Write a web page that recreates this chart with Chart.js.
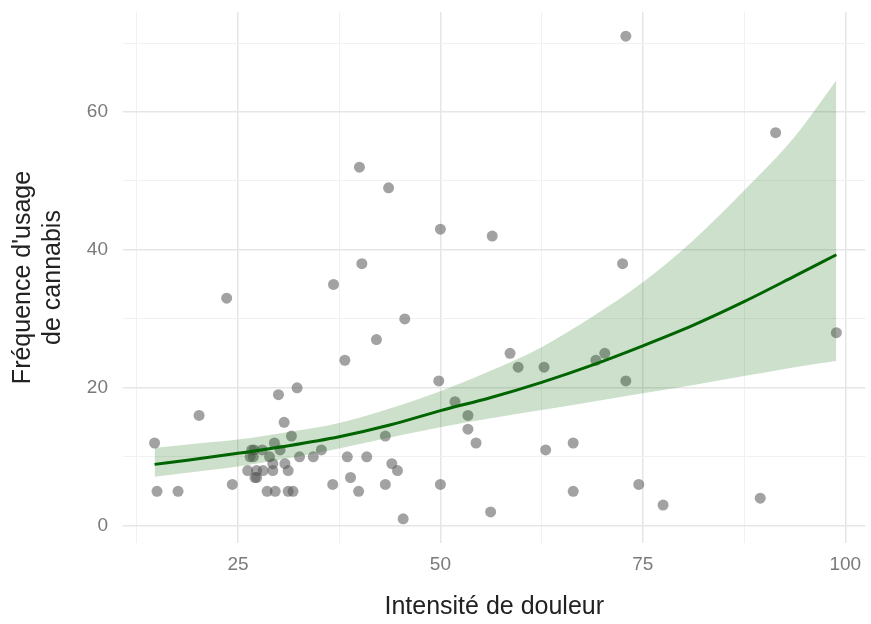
<!DOCTYPE html>
<html lang="fr">
<head>
    <meta charset="UTF-8">
    <title>Fréquence d'usage de cannabis selon l'intensité de douleur</title>
    <script src="https://cdn.jsdelivr.net/npm/chart.js"></script>
    <style>
        html, body {
            margin: 0;
            padding: 0;
            background: #ffffff;
            overflow: hidden;
        }
        #chart {
            display: block;
        }
    </style>
</head>
<body>
    <canvas id="chart" width="871" height="624"></canvas>
    <script>
        const painX = [
            14.7, 15.0, 17.6, 20.2, 23.6, 24.3, 26.7, 26.9, 26.2, 27.3,
            27.1, 28.1, 29.3, 29.3, 30.8, 31.2, 28.6, 29.6, 31.2, 31.8,
            28.9, 30.2, 28.0, 30.0, 32.3, 30.7, 31.6, 32.6, 34.3, 35.3,
            36.7, 36.8, 38.2, 38.5, 38.9, 39.9, 40.0, 40.3, 40.9, 42.1,
            43.2, 43.2, 43.6, 44.0, 44.7, 45.4, 45.6, 49.8, 50.0, 50.0,
            51.8, 53.4, 53.4, 54.4, 56.2, 56.4, 58.6, 59.6, 62.8, 63.0,
            66.4, 66.4, 69.2, 70.3, 72.5, 72.9, 72.9, 74.5, 77.5, 89.5,
            91.4, 98.9, 26.5, 27.3, 29.5, 27.0
        ];
        const usageY = [
            12, 5, 5, 16, 33, 6, 11, 10, 8, 8,
            7, 8, 9, 8, 9, 8, 5, 5, 5, 5,
            10, 11, 11, 19, 20, 15, 13, 10, 10, 11,
            6, 35, 24, 10, 7, 5, 52, 38, 10, 27,
            13, 6, 49, 9, 8, 1, 30, 21, 43, 6,
            18, 16, 14, 12, 2, 42, 25, 23, 23, 11,
            12, 5, 24, 25, 38, 21, 71, 6, 3, 4,
            57, 28, 10, 7, 12, 11
        ];

        // fitted curve and its confidence band, read at a few x positions
        const fitX = [14.7, 18.75, 25, 31.25, 37.5, 43.75, 50, 56.25, 62.5, 68.75, 75, 81.25, 87.5, 93.75, 98.9];
        const fitY = [8.9, 9.5, 10.5, 11.6, 12.9, 14.6, 16.7, 18.6, 20.8, 23.3, 26.1, 29.1, 32.5, 36.2, 39.3];
        const bandHigh = [11.3, 11.8, 12.5, 13.6, 14.9, 17.0, 19.5, 22.5, 25.9, 30.3, 35.3, 41.4, 48.6, 56.4, 64.6];
        const bandLow = [7.1, 7.7, 8.6, 9.8, 11.2, 12.8, 14.3, 15.6, 16.8, 18.0, 19.2, 20.4, 21.7, 23.0, 23.9];

        // grid positions and labelled ticks
        const xGrid = [12.5, 25, 37.5, 50, 62.5, 75, 87.5, 100];
        const xLabels = [25, 50, 75, 100];
        const yGrid = [0, 10, 20, 30, 40, 50, 60, 70];
        const yLabels = [0, 20, 40, 60];

        const toPoints = (xs, ys) => xs.map((x, i) => ({ x: x, y: ys[i] }));

        const fontFamily = "'Liberation Sans', Arial, sans-serif";

        const config = {
            type: 'scatter',
            data: {
                datasets: [
                    {
                        type: 'line',
                        label: 'fit',
                        data: toPoints(fitX, fitY),
                        borderColor: '#006400',
                        borderWidth: 3,
                        pointRadius: 0,
                        fill: false,
                        cubicInterpolationMode: 'monotone',
                        order: 0
                    },
                    {
                        type: 'line',
                        label: 'upper',
                        data: toPoints(fitX, bandHigh),
                        borderWidth: 0,
                        borderColor: 'rgba(0,0,0,0)',
                        backgroundColor: 'rgba(0, 100, 0, 0.2)',
                        pointRadius: 0,
                        fill: '+1',
                        cubicInterpolationMode: 'monotone',
                        order: 1
                    },
                    {
                        type: 'line',
                        label: 'lower',
                        data: toPoints(fitX, bandLow),
                        borderWidth: 0,
                        borderColor: 'rgba(0,0,0,0)',
                        pointRadius: 0,
                        fill: false,
                        cubicInterpolationMode: 'monotone',
                        order: 2
                    },
                    {
                        label: 'points',
                        data: toPoints(painX, usageY),
                        backgroundColor: 'rgba(85, 85, 85, 0.55)',
                        borderWidth: 0,
                        pointRadius: 5.5,
                        order: 3
                    }
                ]
            },
            options: {
                responsive: false,
                animation: false,
                layout: {
                    padding: { left: 0, top: 12, right: 0, bottom: 0 }
                },
                plugins: {
                    legend: { display: false },
                    tooltip: { enabled: false }
                },
                scales: {
                    x: {
                        type: 'linear',
                        min: 10.8,
                        max: 102.5,
                        border: { display: false },
                        grid: {
                            drawTicks: false,
                            color: c => (c.tick && c.tick.value % 25 === 0) ? '#e6e6e6' : '#f1f1f1',
                            lineWidth: c => (c.tick && c.tick.value % 25 === 0) ? 1.5 : 1
                        },
                        afterBuildTicks: axis => {
                            axis.ticks = xGrid.map(v => ({ value: v }));
                        },
                        afterFit: axis => {
                            axis.height = 81;
                            axis.paddingLeft = 0;
                            axis.paddingRight = 0;
                        },
                        ticks: {
                            autoSkip: false,
                            maxRotation: 0,
                            padding: 10,
                            color: '#7a7a7a',
                            font: { family: fontFamily, size: 19 },
                            callback: v => xLabels.includes(v) ? String(v) : ''
                        },
                        title: {
                            display: true,
                            text: 'Intensité de douleur',
                            color: '#222222',
                            font: { family: fontFamily, size: 25 },
                            padding: { top: 0, bottom: 2 }
                        }
                    },
                    y: {
                        type: 'linear',
                        min: -2.5,
                        max: 74.5,
                        border: { display: false },
                        grid: {
                            drawTicks: false,
                            color: c => (c.tick && c.tick.value % 20 === 0) ? '#e6e6e6' : '#f1f1f1',
                            lineWidth: c => (c.tick && c.tick.value % 20 === 0) ? 1.5 : 1
                        },
                        afterBuildTicks: axis => {
                            axis.ticks = yGrid.map(v => ({ value: v }));
                        },
                        afterFit: axis => {
                            axis.width = 123;
                            axis.paddingTop = 0;
                            axis.paddingBottom = 0;
                        },
                        ticks: {
                            autoSkip: false,
                            padding: 15,
                            color: '#7a7a7a',
                            font: { family: fontFamily, size: 19 },
                            callback: v => yLabels.includes(v) ? String(v) : ''
                        },
                        title: {
                            display: true,
                            text: ["Fréquence d'usage", 'de cannabis'],
                            color: '#222222',
                            font: { family: fontFamily, size: 25 },
                            padding: { top: 8, bottom: 0 }
                        }
                    }
                }
            }
        };

        const chart = new Chart(document.getElementById('chart'), config);
    </script>
</body>
</html>
